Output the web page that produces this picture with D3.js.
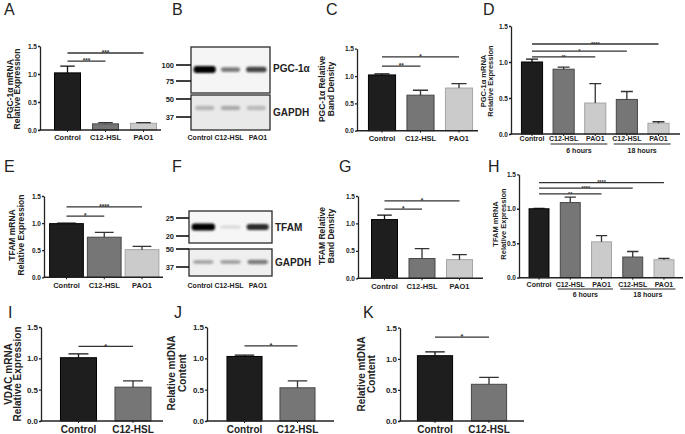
<!DOCTYPE html>
<html>
<head>
<meta charset="utf-8">
<script src="https://cdn.jsdelivr.net/npm/d3@7"></script>
<style>
  body { margin: 0; background: #fff; }
  svg { display: block; }
  text { font-family: "Liberation Sans", Arial, Helvetica, sans-serif; }
</style>
</head>
<body>
<svg id="fig" width="685" height="434"></svg>
<script>
const width = 685;
const height = 434;

// ---- data ----
const groups = ["Control", "C12-HSL", "PAO1"];
const yTicks = [0, 0.5, 1.0, 1.5];

// A: PGC-1a mRNA
const catsA = ["Control", "C12-HSL", "PAO1"];
const valsA = [1.02, 0.11, 0.12];
const errA = [0.12, 0.02, 0.01];
const sigA = [[0, 2, "***", 1.375], [0, 1, "***", 1.23]];

// C: PGC-1a band density
const catsC = ["Control", "C12-HSL", "PAO1"];
const valsC = [1.02, 0.65, 0.78];
const errC = [0.02, 0.09, 0.08];
const sigC = [[0, 2, "*", 1.35], [0, 1, "**", 1.18]];

// D: PGC-1a mRNA time course
const catsD = ["Control", "C12-HSL|6", "PAO1|6", "C12-HSL|18", "PAO1|18"];
const valsD = [1.0, 0.9, 0.43, 0.48, 0.15];
const errD = [0.04, 0.03, 0.27, 0.11, 0.02];
const sigD = [[0, 4, "****", 1.25], [0, 3, "*", 1.15], [0, 2, "**", 1.07]];
const timesD = [["6 hours", 1, 2], ["18 hours", 3, 4]];

// E: TFAM mRNA
const catsE = ["Control", "C12-HSL", "PAO1"];
const valsE = [0.99, 0.74, 0.51];
const errE = [0.01, 0.09, 0.06];
const sigE = [[0, 2, "****", 1.3], [0, 1, "*", 1.13]];

// G: TFAM band density
const catsG = ["Control", "C12-HSL", "PAO1"];
const valsG = [1.07, 0.36, 0.34];
const errG = [0.08, 0.18, 0.09];
const sigG = [[0, 2, "*", 1.41], [0, 1, "*", 1.26]];

// H: TFAM mRNA time course
const catsH = ["Control", "C12-HSL|6", "PAO1|6", "C12-HSL|18", "PAO1|18"];
const valsH = [1.0, 1.09, 0.52, 0.3, 0.26];
const errH = [0.005, 0.08, 0.09, 0.08, 0.02];
const sigH = [[0, 4, "****", 1.38], [0, 3, "****", 1.3], [0, 2, "**", 1.215]];

// I, J, K
const catsIJK = ["Control", "C12-HSL"];
const valsI = [1.01, 0.54];
const errI = [0.06, 0.1];
const sigI = [[0, 1, "*", 1.19]];
const valsJ = [1.03, 0.53];
const errJ = [0.02, 0.11];
const sigJ = [[0, 1, "*", 1.2]];
const valsK = [1.05, 0.59];
const errK = [0.06, 0.11];
const sigK = [[0, 1, "*", 1.35]];

// blots (band intensity 0..1)
const blotLanes = ["Control", "C12-HSL", "PAO1"];
const pgcBands = [1.0, 0.5, 0.72];
const pgcGapdh = [0.22, 0.26, 0.2];
const tfamBands = [1.0, 0.12, 0.82];
const tfamGapdh = [0.3, 0.32, 0.48];
const kdaB1 = [100, 75];
const kdaB2 = [50, 37];
const kdaF1 = [25, 20];
const kdaF2 = [50, 37];

// ---- styles ----
const fills = d3.scaleOrdinal().domain(groups).range(["#1e1e1e", "#767676", "#cbcbcb"]);
const edges = d3.scaleOrdinal().domain(groups).range(["#000", "#474747", "#a5a5a5"]);
const ink = "#222";
const grp = (c) => c.split("|")[0];

const svg = d3.select("#fig");
svg.append("rect").attr("width", width).attr("height", height).attr("fill", "#fff");

const defs = svg.append("defs");
defs.append("filter").attr("id", "blur").attr("x", "-50%").attr("y", "-100%")
  .attr("width", "200%").attr("height", "300%")
  .append("feGaussianBlur").attr("stdDeviation", 1.1);

function letter(t, x, y) {
  svg.append("text").text(t).attr("x", x).attr("y", y)
    .attr("font-size", 16).attr("fill", ink);
}

function yLabel(lines, xs, cy, fs) {
  lines.forEach((t, i) => {
    svg.append("text").text(t)
      .attr("transform", `translate(${xs[i]},${cy}) rotate(-90)`)
      .attr("text-anchor", "middle")
      .attr("font-size", fs)
      .attr("font-weight", "bold")
      .attr("fill", ink);
  });
}

function barPanel(o) {
  const g = svg.append("g");
  const x = d3.scaleBand().domain(o.cats).range(o.xr)
    .paddingInner(o.pad).paddingOuter(o.pad / 2);
  const y = d3.scaleLinear().domain([0, 1.5]).range(o.yr);
  const rows = o.cats.map((c, i) => ({ c: c, v: o.vals[i], e: o.errs[i] }));
  const bw = x.bandwidth();
  const mid = (c) => x(c) + bw / 2;

  g.selectAll("rect.bar").data(rows).join("rect")
    .attr("class", "bar")
    .attr("x", (d) => x(d.c) + 0.5)
    .attr("y", (d) => y(d.v))
    .attr("width", bw - 1)
    .attr("height", (d) => y(0) - y(d.v))
    .attr("fill", (d) => fills(grp(d.c)))
    .attr("stroke", (d) => edges(grp(d.c)))
    .attr("stroke-width", 1);

  const cap = bw * 0.27;
  g.selectAll("path.err").data(rows).join("path")
    .attr("class", "err")
    .attr("d", (d) => {
      const cx = mid(d.c), y0 = y(d.v), y1 = y(d.v + d.e);
      return `M${cx},${y0}V${y1}M${cx - cap},${y1}H${cx + cap}`;
    })
    .attr("fill", "none")
    .attr("stroke", (d) => (grp(d.c) === "Control" ? "#111" : "#333"))
    .attr("stroke-width", 1.3);

  const ya = g.append("g")
    .attr("transform", `translate(${o.ax},0)`)
    .call(d3.axisLeft(y).tickValues(yTicks).tickFormat(d3.format(".1f"))
      .tickSize(2).tickSizeOuter(0).tickPadding(1));
  ya.attr("color", ink).attr("font-size", o.tfs).attr("font-weight", "bold");
  ya.selectAll("path, line").attr("stroke-width", 1.3);

  g.append("line")
    .attr("x1", o.ax - 0.6).attr("x2", o.xend)
    .attr("y1", y(0)).attr("y2", y(0))
    .attr("stroke", ink).attr("stroke-width", 1.4);

  const xa = g.append("g")
    .attr("transform", `translate(0,${y(0)})`)
    .call(d3.axisBottom(x).tickSize(2).tickPadding(o.lp).tickFormat(grp));
  xa.select(".domain").remove();
  xa.attr("color", ink).attr("font-size", o.lfs).attr("font-weight", "bold");
  xa.selectAll("line").attr("stroke-width", 1);

  const sg = g.selectAll("g.sig").data(o.sig).join("g").attr("class", "sig");
  sg.append("line")
    .attr("x1", (d) => mid(o.cats[d[0]]))
    .attr("x2", (d) => mid(o.cats[d[1]]))
    .attr("y1", (d) => y(d[3])).attr("y2", (d) => y(d[3]))
    .attr("stroke", "#333").attr("stroke-width", 1.3);
  sg.append("text")
    .text((d) => d[2])
    .attr("x", (d) => (mid(o.cats[d[0]]) + mid(o.cats[d[1]])) / 2)
    .attr("y", (d) => y(d[3]) + o.sfs * 0.3)
    .attr("text-anchor", "middle")
    .attr("font-size", o.sfs)
    .attr("font-weight", "bold")
    .attr("fill", "#333");

  return { x: x, y: y, g: g };
}

function timeGroups(p, times, lineY, textY, fs) {
  const bw = p.x.bandwidth();
  times.forEach((t) => {
    const a = p.x(p.x.domain()[t[1]]) - 2;
    const b = p.x(p.x.domain()[t[2]]) + bw + 1;
    p.g.append("line").attr("x1", a).attr("x2", b)
      .attr("y1", lineY).attr("y2", lineY)
      .attr("stroke", ink).attr("stroke-width", 1);
    p.g.append("text").text(t[0])
      .attr("x", (a + b) / 2).attr("y", textY)
      .attr("text-anchor", "middle")
      .attr("font-size", fs).attr("font-weight", "bold").attr("fill", ink);
  });
}

function blot(o) {
  const g = svg.append("g");
  const lane = d3.scaleBand().domain(blotLanes).range([o.x0 + 1, o.x1 - 1])
    .paddingInner(0.14).paddingOuter(0.06);
  const labelX = d3.scalePoint().domain(blotLanes).range(o.labR);

  o.boxes.forEach((b) => {
    g.append("rect")
      .attr("x", o.x0).attr("y", b.y0)
      .attr("width", o.x1 - o.x0).attr("height", b.y1 - b.y0)
      .attr("fill", b.bg).attr("stroke", "#2a2a2a").attr("stroke-width", 1.3);
    const bands = g.append("g").attr("filter", "url(#blur)");
    bands.selectAll("rect").data(b.bands).join("rect")
      .attr("x", (d, i) => lane(blotLanes[i]) + (1 - Math.max(d, 0.5)) * 3)
      .attr("width", (d) => lane.bandwidth() - (1 - Math.max(d, 0.5)) * 6)
      .attr("y", (d) => b.by - (b.h0 + b.h1 * d) / 2)
      .attr("height", (d) => b.h0 + b.h1 * d)
      .attr("rx", 3)
      .attr("fill", (d) => d3.interpolateRgb(b.bg, "#000")(d));
    const mw = d3.scaleLog().domain(b.kda).range(b.ky);
    const mk = g.selectAll(null).data(b.kda).enter();
    mk.append("line")
      .attr("x1", o.mx).attr("x2", o.x0)
      .attr("y1", (d) => mw(d)).attr("y2", (d) => mw(d))
      .attr("stroke", "#111").attr("stroke-width", 1.6);
    mk.append("text").text((d) => d)
      .attr("x", o.mx - 2).attr("y", (d) => mw(d))
      .attr("dy", "0.35em").attr("text-anchor", "end")
      .attr("font-size", 7.5).attr("font-weight", "bold").attr("fill", ink);
    g.append("text").text(b.name)
      .attr("x", o.x1 + 3).attr("y", b.ny)
      .attr("font-size", 10).attr("font-weight", "bold").attr("fill", ink);
  });

  g.selectAll("text.lane").data(blotLanes).join("text")
    .attr("class", "lane")
    .text((d) => d)
    .attr("x", (d) => labelX(d)).attr("y", o.labY)
    .attr("text-anchor", "middle")
    .attr("font-size", 7).attr("font-weight", "bold").attr("fill", ink);
}

// ---- row 1 ----
letter("A", 4, 15);
barPanel({ cats: catsA, vals: valsA, errs: errA, sig: sigA,
  xr: [48.5, 162.5], pad: 0.29, yr: [130, 46], ax: 40, xend: 161,
  tfs: 6.5, lfs: 7.5, lp: 3, sfs: 6.5 });
yLabel(["PGC-1\u03b1 mRNA", "Relative Expression"], [12.5, 19.5], 89, 8.5);

letter("B", 172, 15);
blot({ x0: 191, x1: 270, mx: 176, labR: [200, 258], labY: 140,
  boxes: [
    { y0: 47, y1: 93, bg: "#f5f5f5", by: 69.5, h0: 2.5, h1: 4.5, bands: pgcBands,
      kda: kdaB1, ky: [65, 81], name: "PGC-1\u03b1", ny: 72 },
    { y0: 95, y1: 130, bg: "#e9e9e9", by: 108, h0: 4, h1: 2, bands: pgcGapdh,
      kda: kdaB2, ky: [99, 117], name: "GAPDH", ny: 116 }
  ] });

letter("C", 326, 15);
barPanel({ cats: catsC, vals: valsC, errs: errC, sig: sigC,
  xr: [362.75, 478.25], pad: 0.27, yr: [130.7, 48.7], ax: 357, xend: 478,
  tfs: 6.5, lfs: 7.5, lp: 3, sfs: 6.5 });
yLabel(["PGC-1\u03b1 Relative", "Band Density"], [325, 333.5], 89, 8.5);

letter("D", 483, 15);
const pD = barPanel({ cats: catsD, vals: valsD, errs: errD, sig: sigD,
  xr: [516.2, 674.3], pad: 0.3, yr: [134, 26], ax: 511, xend: 680,
  tfs: 6.5, lfs: 7, lp: 0.5, sfs: 5.5 });
timeGroups(pD, timesD, 144, 153, 7);
yLabel(["PGC-1\u03b1 mRNA", "Relative Expression"], [485.5, 493], 81, 7.5);

// ---- row 2 ----
letter("E", 4, 172);
barPanel({ cats: catsE, vals: valsE, errs: errE, sig: sigE,
  xr: [47.6, 160.9], pad: 0.08, yr: [277.3, 196], ax: 44, xend: 163,
  tfs: 6.5, lfs: 7.5, lp: 3, sfs: 6.5 });
yLabel(["TFAM mRNA", "Relative Expression"], [15, 23.5], 235, 8.5);

letter("F", 172, 172);
blot({ x0: 189, x1: 272, mx: 176, labR: [200, 258], labY: 288,
  boxes: [
    { y0: 211, y1: 243, bg: "#f6f6f6", by: 227, h0: 2.5, h1: 4.5, bands: tfamBands,
      kda: kdaF1, ky: [218, 236], name: "TFAM", ny: 231 },
    { y0: 249, y1: 276, bg: "#efefef", by: 262, h0: 3, h1: 3, bands: tfamGapdh,
      kda: kdaF2, ky: [249, 267], name: "GAPDH", ny: 266 }
  ] });

letter("G", 339, 172);
barPanel({ cats: catsG, vals: valsG, errs: errG, sig: sigG,
  xr: [365.75, 478.25], pad: 0.28, yr: [278.3, 196], ax: 358, xend: 483,
  tfs: 6.5, lfs: 7.5, lp: 3, sfs: 6.5 });
yLabel(["TFAM Relative", "Band Density"], [325, 333.5], 236, 8.5);

letter("H", 488, 172);
const pH = barPanel({ cats: catsH, vals: valsH, errs: errH, sig: sigH,
  xr: [523.4, 679.6], pad: 0.33, yr: [277.7, 174.3], ax: 519, xend: 683,
  tfs: 6.5, lfs: 7, lp: 2, sfs: 5.5 });
timeGroups(pH, timesD, 289, 297, 7);
yLabel(["TFAM mRNA", "Relative Expression"], [498, 506], 224, 7.5);

// ---- row 3 ----
letter("I", 8, 318);
barPanel({ cats: catsIJK, vals: valsI, errs: errI, sig: sigI,
  xr: [51.25, 160.25], pad: 0.32, yr: [421, 327], ax: 41, xend: 163,
  tfs: 8, lfs: 10, lp: 2.5, sfs: 7.5 });
yLabel(["VDAC mRNA", "Relative Expression"], [11.5, 20.5], 374, 10);

letter("J", 174, 318);
barPanel({ cats: catsIJK, vals: valsJ, errs: errJ, sig: sigJ,
  xr: [218, 324], pad: 0.32, yr: [421, 327], ax: 207, xend: 334,
  tfs: 8, lfs: 10, lp: 2.5, sfs: 7.5 });
yLabel(["Relative mtDNA", "Content"], [175, 185.5], 373, 10);

letter("K", 363, 318);
barPanel({ cats: catsIJK, vals: valsK, errs: errK, sig: sigK,
  xr: [408, 516], pad: 0.33, yr: [421, 327.7], ax: 400, xend: 524,
  tfs: 8, lfs: 10, lp: 2.5, sfs: 7.5 });
yLabel(["Relative mtDNA", "Content"], [365, 375], 374, 10);
</script>
</body>
</html>
